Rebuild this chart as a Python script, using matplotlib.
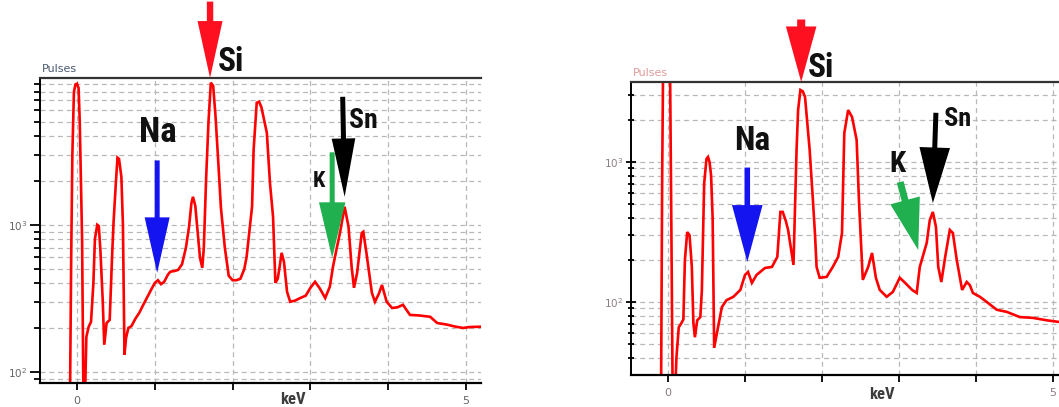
#!/usr/bin/python3
#Two EDS spectra (log counts vs keV) with element markers
import numpy as np
import matplotlib
matplotlib.use('Agg')
import matplotlib.pyplot as plt
import matplotlib.patches as patches
import matplotlib.transforms as mtrans
from matplotlib.ticker import LogLocator, NullFormatter

#--spectrum 1 (left)
leftKeV = [-0.12, -0.09, -0.075, -0.06, -0.04, -0.02, 0.0, 0.02, 0.035, 0.05, 0.065, 0.08, 0.10,
           0.12, 0.15, 0.18, 0.21, 0.23, 0.26, 0.28, 0.30, 0.33, 0.35, 0.38, 0.42, 0.45, 0.47,
           0.50, 0.52, 0.54, 0.57, 0.59, 0.61, 0.63, 0.66, 0.70, 0.75, 0.80, 0.85, 0.90, 0.95,
           1.00, 1.04, 1.08, 1.12, 1.17, 1.20, 1.25, 1.30, 1.35, 1.40, 1.44, 1.47, 1.49, 1.52,
           1.55, 1.58, 1.61, 1.63, 1.66, 1.69, 1.72, 1.75, 1.78, 1.81, 1.85, 1.90, 1.95, 2.00,
           2.05, 2.10, 2.15, 2.18, 2.25, 2.27, 2.31, 2.34, 2.37, 2.44, 2.48, 2.52, 2.55, 2.58,
           2.60, 2.63, 2.66, 2.70, 2.74, 2.80, 2.87, 2.94, 3.00, 3.06, 3.12, 3.19, 3.25, 3.29,
           3.34, 3.38, 3.44, 3.49, 3.53, 3.56, 3.60, 3.66, 3.68, 3.72, 3.79, 3.83, 3.88, 3.92,
           3.98, 4.05, 4.12, 4.19, 4.28, 4.40, 4.54, 4.63, 4.75, 4.85, 4.96, 5.05, 5.20]
leftCounts = [50, 70, 600, 3000, 8000, 9000, 9100, 8500, 5000, 2000, 800, 90, 60,
              173, 203, 219, 400, 800, 1000, 980, 676, 309, 153, 215, 226, 600, 1050,
              1960, 2860, 2800, 2120, 1000, 131, 170, 199, 205, 230, 252, 285, 320, 360,
              403, 420, 395, 410, 460, 480, 485, 494, 540, 700, 970, 1400, 1550, 1350,
              900, 600, 510, 700, 2100, 5000, 9250, 8800, 5500, 3000, 1300, 700, 450, 420,
              420, 430, 500, 605, 1330, 3240, 6750, 6870, 6300, 4220, 1930, 1130, 403, 430,
              500, 645, 560, 350, 300, 305, 318, 330, 373, 410, 370, 318, 380, 518,
              700, 880, 1326, 970, 518, 373, 470, 880, 897, 645, 345, 300, 340, 390,
              300, 272, 275, 286, 244, 242, 237, 215, 210, 204, 199, 202, 203]

#--spectrum 2 (right)
rightKeV = [-0.12, -0.09, -0.075, -0.06, -0.04, -0.02, 0.0, 0.015, 0.03, 0.045, 0.06, 0.09,
            0.11, 0.14, 0.17, 0.20, 0.22, 0.25, 0.28, 0.31, 0.33, 0.35, 0.38, 0.42, 0.44,
            0.47, 0.50, 0.52, 0.54, 0.56, 0.58, 0.60, 0.65, 0.70, 0.76, 0.85, 0.94, 1.00,
            1.04, 1.09, 1.15, 1.26, 1.35, 1.42, 1.46, 1.49, 1.53, 1.56, 1.63, 1.67, 1.69,
            1.72, 1.75, 1.78, 1.84, 1.88, 1.91, 1.93, 1.97, 2.06, 2.14, 2.21, 2.26, 2.29,
            2.34, 2.39, 2.45, 2.48, 2.53, 2.60, 2.65, 2.70, 2.75, 2.84, 2.92, 3.01, 3.08,
            3.17, 3.23, 3.27, 3.36, 3.40, 3.44, 3.48, 3.51, 3.55, 3.60, 3.66, 3.70, 3.75,
            3.82, 3.88, 3.92, 3.96, 4.05, 4.14, 4.27, 4.40, 4.57, 4.74, 4.92, 5.08, 5.20]
rightCounts = [15, 20, 800, 8000, 20000, 30000, 30000, 20000, 3000, 300, 25, 20,
               40, 66, 70, 75, 200, 316, 300, 178, 71, 56, 74, 78, 120,
               700, 1050, 1086, 1000, 800, 400, 47, 66, 92, 103, 109, 122, 156,
               164, 137, 156, 175, 178, 210, 440, 440, 380, 327, 184, 1220, 2350,
               3270, 3200, 2910, 1220, 560, 300, 178, 149, 151, 178, 210, 311, 1610,
               2350, 2100, 1440, 535, 144, 178, 224, 149, 122, 109, 118, 149, 137,
               122, 116, 178, 264, 385, 440, 344, 178, 139, 210, 327, 311, 200,
               122, 139, 132, 116, 109, 100, 88, 85, 78, 77, 74, 72, 72]

#--element markers: (label, keV, counts at arrow tip; None = top edge)
leftMarks = [('Si', 1.71, None), ('Na', 1.03, 471), ('Sn', 3.44, 1550), ('K', 3.28, 596)]
rightMarks = [('Si', 1.73, None), ('Na', 1.03, 193), ('Sn', 3.44, 509), ('K', 3.25, 235)]

tickLabels = ['0', '', '', '', '', '5']
kevPos = 2.78

gridColor = '#b8b8b8'
markColors = {'Si': '#ff1020', 'Na': '#1414f0', 'Sn': '#000000', 'K': '#20b050'}
narrowFont = ['Roboto Condensed', 'Noto Sans', 'DejaVu Sans']


def setupAxes(ax, xlim, ylim, pulsesColor, tickColor, tickDir, kevDy):
    ax.set_yscale('log')
    ax.set_xlim(*xlim)
    ax.set_ylim(*ylim)
    ax.yaxis.set_major_locator(LogLocator(base=10))
    ax.yaxis.set_minor_locator(LogLocator(base=10, subs=np.arange(2, 10)))
    ax.yaxis.set_minor_formatter(NullFormatter())
    ax.set_xticks(range(6))
    ax.set_xticklabels(tickLabels)
    ax.grid(True, which='both', axis='y', ls=(0, (4, 3)), color=gridColor, lw=0.9)
    ax.grid(True, which='major', axis='x', ls=(0, (4, 3)), color=gridColor, lw=0.9)
    ax.set_axisbelow(True)
    ax.tick_params(axis='y', which='major', direction=tickDir, length=7, width=1.3,
                   labelsize=7.5, labelcolor=tickColor, pad=2)
    ax.tick_params(axis='y', which='minor', direction=tickDir, length=4.5, width=1.3)
    ax.tick_params(axis='x', direction='out', length=5, width=1.3, labelsize=8,
                   labelcolor=tickColor, pad=4)
    ax.spines['right'].set_visible(False)
    ax.spines['top'].set_color('#333333')
    ax.spines['top'].set_linewidth(1.6)
    ax.spines['left'].set_linewidth(1.4)
    ax.spines['bottom'].set_linewidth(1.6)
    #--axis captions
    ax.annotate('keV', xy=(kevPos, 0.0), xycoords=('data', 'axes fraction'),
                xytext=(0, kevDy), textcoords='offset pixels', ha='center', va='baseline',
                fontsize=12, fontweight='bold', fontstretch='extra-condensed',
                family=narrowFont, color='#3c3c3c', annotation_clip=False)
    ax.text(0.004, 1.012, 'Pulses', transform=ax.transAxes, ha='left', va='bottom',
            fontsize=8, color=pulsesColor)
    return


def drawArrow(ax, tipX, tipY, dx, dy, color, headLen, headWid, tailWid):
    #--sizes in points, tail given as offset from the tip
    ycoords = 'axes fraction' if tipY is None else 'data'
    yy = 1.0 if tipY is None else tipY
    style = patches.ArrowStyle.Simple(head_length=headLen / 10, head_width=headWid / 10,
                                      tail_width=tailWid / 10)
    ax.annotate('', xy=(tipX, yy), xycoords=('data', ycoords), xytext=(dx, dy),
                textcoords='offset points', annotation_clip=False,
                arrowprops=dict(arrowstyle=style, mutation_scale=10, fc=color, ec='none',
                                shrinkA=0, shrinkB=0))
    return


def drawLabel(ax, text, tipX, tipY, dx, dy, size):
    #--dx,dy: pixel offset of the text baseline centre from the arrow tip
    ycoords = 'axes fraction' if tipY is None else 'data'
    yy = 1.0 if tipY is None else tipY
    ax.annotate(text, xy=(tipX, yy), xycoords=('data', ycoords), xytext=(dx, dy),
                textcoords='offset pixels', ha='center', va='baseline', fontsize=size,
                fontweight='bold', fontstretch='extra-condensed', family=narrowFont,
                color='#111111', annotation_clip=False)
    return


def markElements(ax, marks, arrowSpec, textSpec):
    for (name, kev, cnt) in marks:
        dx, dy, hl, hw, tw = arrowSpec[name]
        drawArrow(ax, kev, cnt, dx, dy, markColors[name], hl, hw, tw)
        tx, ty, sz = textSpec[name]
        drawLabel(ax, name, kev, cnt, tx, ty, sz)
    return


def main():
    fig = plt.figure(figsize=(10.59, 4.07), dpi=100)

    #--left spectrum
    axL = fig.add_axes([40 / 1059, 24 / 407, 441 / 1059, 305 / 407])
    setupAxes(axL, (-0.476, 5.193), (84.1, 9950), '#4a5a72', '#666666', 'out', -21)
    axL.plot(leftKeV, leftCounts, color='#ff0000', lw=1.9, solid_joinstyle='miter')
    markElements(axL, leftMarks,
                 {'Si': (0, 55, 41, 18, 4.6), 'Na': (0, 81, 40, 18, 3.6),
                  'Sn': (-1.4, 72, 42, 17, 3.6), 'K': (0, 76, 40, 19, 3.6)},
                 {'Si': (21, 7, 24), 'Na': (0.5, 131, 25),
                  'Sn': (18.5, 69, 20), 'K': (-13, 71, 16)})

    #--right spectrum
    axR = fig.add_axes([631 / 1059, 32 / 407, 437.4 / 1059, 293 / 407])
    setupAxes(axR, (-0.48, 5.2), (30.1, 3728), '#e09a9a', '#8c7c84', 'inout', -24)
    axR.plot(rightKeV, rightCounts, color='#ff0000', lw=1.9, solid_joinstyle='miter')
    markElements(axR, rightMarks,
                 {'Si': (0, 45, 40, 22, 5.8), 'Na': (0, 68, 41, 22, 4.0),
                  'Sn': (2.2, 65, 40, 22, 3.6), 'K': (-13, 49, 37, 22, 5.0)},
                 {'Si': (20, 5, 24), 'Na': (5, 112, 24),
                  'Sn': (25, 77, 19), 'K': (-21, 78, 21)})

    plt.savefig('out.png', dpi=100)
    # plt.show()


if __name__ == "__main__":
    main()
